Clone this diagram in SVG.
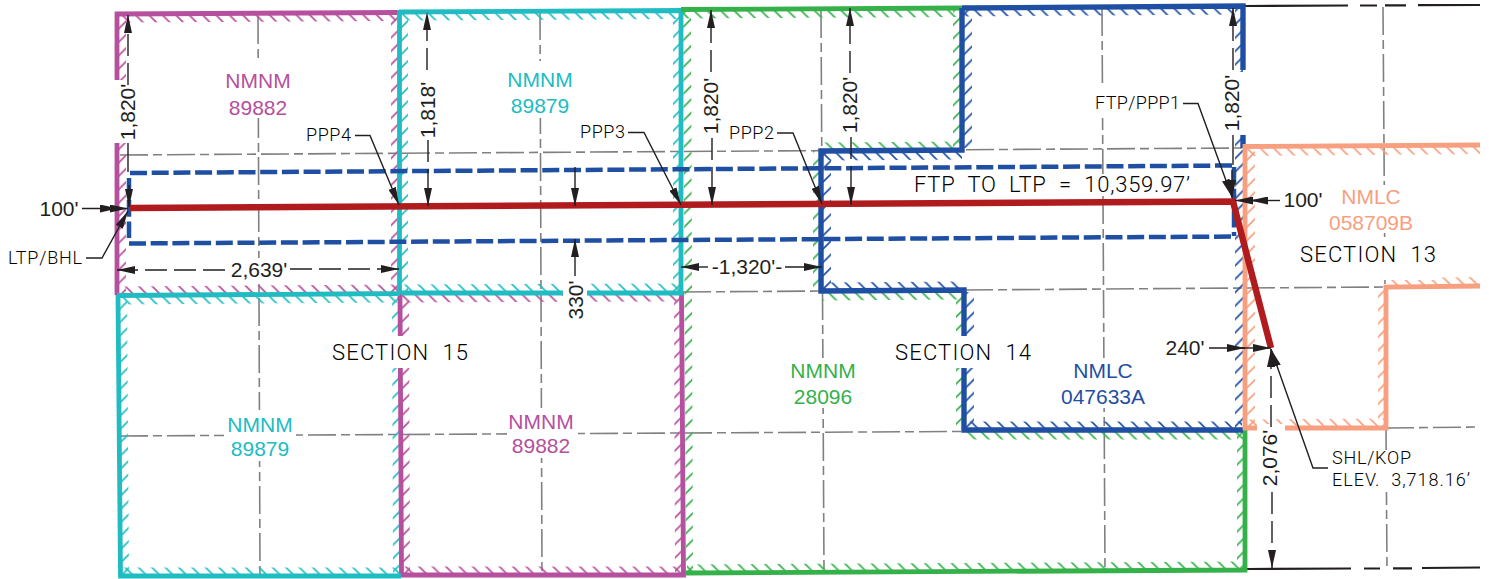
<svg xmlns="http://www.w3.org/2000/svg" width="1489" height="579" viewBox="0 0 1489 579">
<style>
text{font-family:"Liberation Sans",Arial,sans-serif;font-size:21px;fill:#231f20;text-anchor:middle}
.c{font-family:Roboto,"Liberation Sans",sans-serif;font-weight:300;font-size:22px;text-anchor:start;white-space:pre;fill:#000}
.s{font-size:18px}
.g{fill:none;stroke:#808080;stroke-width:1.6;stroke-dasharray:28 5 9 5}
.k{fill:none;stroke:#231f20;stroke-width:2.2}
.b{fill:none;stroke-linejoin:miter;stroke-width:4.8}
.d{fill:none;stroke:#1f4fa3;stroke-width:4.5;stroke-dasharray:17 4.7}
.l{fill:none;stroke:#231f20;stroke-width:1.4}
.m{stroke-dasharray:22 7}
.a{marker-end:url(#ah)}
.P{stroke:#b64f9e}.C{stroke:#20bcc2}.G{stroke:#35b14a}.B{stroke:#1f4fa3}.O{stroke:#f79f7f}
.tP{fill:#b64f9e}.tC{fill:#20bcc2}.tG{fill:#35b14a}.tB{fill:#1f4fa3}.tO{fill:#f79f7f}
.h path{fill:none;stroke-width:1.7}
</style>
<defs>
<marker id="ah" markerUnits="userSpaceOnUse" markerWidth="18" markerHeight="8" refX="18" refY="4" orient="auto"><path d="M0 0L18 4L0 8z" fill="#231f20"/></marker>
<pattern id="bP" class="h" width="13.4" height="13.4" patternUnits="userSpaceOnUse"><path class="P" d="M-2-2L15.4 15.4M-2 11.4L2 15.4M11.4-2L15.4 2"/></pattern>
<pattern id="fP" class="h" width="13.4" height="13.4" patternUnits="userSpaceOnUse"><path class="P" d="M-2 15.4L15.4-2M-2 2L2-2M11.4 15.4L15.4 11.4"/></pattern>
<pattern id="bC" class="h" width="13.4" height="13.4" patternUnits="userSpaceOnUse"><path class="C" d="M-2-2L15.4 15.4M-2 11.4L2 15.4M11.4-2L15.4 2"/></pattern>
<pattern id="fC" class="h" width="13.4" height="13.4" patternUnits="userSpaceOnUse"><path class="C" d="M-2 15.4L15.4-2M-2 2L2-2M11.4 15.4L15.4 11.4"/></pattern>
<pattern id="bG" class="h" width="13.4" height="13.4" patternUnits="userSpaceOnUse"><path class="G" d="M-2-2L15.4 15.4M-2 11.4L2 15.4M11.4-2L15.4 2"/></pattern>
<pattern id="fG" class="h" width="13.4" height="13.4" patternUnits="userSpaceOnUse"><path class="G" d="M-2 15.4L15.4-2M-2 2L2-2M11.4 15.4L15.4 11.4"/></pattern>
<pattern id="bB" class="h" width="13.4" height="13.4" patternUnits="userSpaceOnUse"><path class="B" d="M-2-2L15.4 15.4M-2 11.4L2 15.4M11.4-2L15.4 2"/></pattern>
<pattern id="fB" class="h" width="13.4" height="13.4" patternUnits="userSpaceOnUse"><path class="B" d="M-2 15.4L15.4-2M-2 2L2-2M11.4 15.4L15.4 11.4"/></pattern>
<pattern id="bO" class="h" width="13.4" height="13.4" patternUnits="userSpaceOnUse"><path class="O" d="M-2-2L15.4 15.4M-2 11.4L2 15.4M11.4-2L15.4 2"/></pattern>
<pattern id="fO" class="h" width="13.4" height="13.4" patternUnits="userSpaceOnUse"><path class="O" d="M-2 15.4L15.4-2M-2 2L2-2M11.4 15.4L15.4 11.4"/></pattern>
</defs>
<rect width="1489" height="579" fill="#fff"/>
<g id="grid">
<path class="g" d="M258 16L260 575M540 12L542 575M821 10L824 572M1102 8L1105 570M1383 7L1387 568"/>
<path class="g" d="M120 155L1242 148M683 292L1386 287M120 436L1240 430M1386 428L1480 427"/>
<path class="k" d="M1245 6L1348 5.5M1360 5.5H1377M1385 5.3H1406M1418 5.2L1480 5M1247 569L1351 568.5M1364 568.5H1380M1393 568.3H1412M1422 568L1480 567.5"/>
</g>
<g id="hatching">
<polygon fill="url(#bP)" points="118,14 396,12.5 396,21 118,22.5"/>
<polygon fill="url(#fP)" points="119,16 126,16 126,294 119,294"/>
<polygon fill="url(#fP)" points="391,14 399,14 399,292 391,292"/>
<polygon fill="url(#bP)" points="120,286.500 399,284.500 399,293 120,295"/>
<polygon fill="url(#bC)" points="401,12 680,10.500 680,19 401,20.500"/>
<polygon fill="url(#fC)" points="401,14 408,14 408,292 401,292"/>
<polygon fill="url(#fC)" points="673,12 681,12 681,292 673,292"/>
<polygon fill="url(#bC)" points="402,284.500 680,283.500 680,292 402,293"/>
<polygon fill="url(#bC)" points="120,296 398,294 398,302.500 120,304.500"/>
<polygon fill="url(#fC)" points="120,298 127,298 129,574 122,574"/>
<polygon fill="url(#fC)" points="392,296 400,296 401,574 393,574"/>
<polygon fill="url(#bC)" points="122,567.500 399,567.500 399,576 122,576"/>
<polygon fill="url(#bP)" points="402,294 680,293 680,301.500 402,302.500"/>
<polygon fill="url(#fP)" points="402,295 409,295 410,574 403,574"/>
<polygon fill="url(#fP)" points="674,294 682,294 683,574 675,574"/>
<polygon fill="url(#bP)" points="403,566.500 682,566.500 682,575 403,575"/>
<polygon fill="url(#bG)" points="683,10 960,8.500 960,17 683,18.500"/>
<polygon fill="url(#fG)" points="683,11 691,11 693,573 686,573"/>
<polygon fill="url(#fG)" points="953,9 961,9 961,149 953,149"/>
<polygon fill="url(#bG)" points="822,142.500 960,141.500 960,150 822,151"/>
<polygon fill="url(#fG)" points="813,151 821,151 821,291 813,291"/>
<polygon fill="url(#bG)" points="822,292 964,291 964,299.500 822,300.500"/>
<polygon fill="url(#fG)" points="956,291 964,291 964,430 956,430"/>
<polygon fill="url(#bG)" points="964,431 1244,431 1244,439.500 964,439.500"/>
<polygon fill="url(#fG)" points="1237,432 1245,432 1245,570 1237,570"/>
<polygon fill="url(#bG)" points="687,564.500 1245,561.500 1245,570 687,573"/>
<polygon fill="url(#bB)" points="964,8 1241,6 1241,14.500 964,16.500"/>
<polygon fill="url(#fB)" points="964,9 972,9 972,148 964,148"/>
<polygon fill="url(#fB)" points="1235,8 1243,8 1243,428 1235,428"/>
<polygon fill="url(#bB)" points="824,152 962,151 962,159.500 824,160.500"/>
<polygon fill="url(#fB)" points="823,152 831,152 831,290 823,290"/>
<polygon fill="url(#bB)" points="824,282.500 962,281.500 962,290 824,291"/>
<polygon fill="url(#fB)" points="966,292 974,292 974,430 966,430"/>
<polygon fill="url(#bB)" points="966,421.500 1242,421.500 1242,430 966,430"/>
<polygon fill="url(#bO)" points="1247,147 1480,145 1480,154 1247,156"/>
<polygon fill="url(#fO)" points="1247,150 1255,150 1255,427 1247,427"/>
<polygon fill="url(#bO)" points="1247,419.500 1384,418.500 1384,427 1247,428"/>
<polygon fill="url(#fO)" points="1378,288 1386,288 1386,426 1378,426"/>
<polygon fill="url(#bO)" points="1387,278 1480,277 1480,286 1387,287"/>
</g>
<g id="boundaries">
<path class="b P" d="M117 295V14L398 12.5"/>
<path class="b P" d="M400 293L401.5 575H683.5L681.5 292"/>
<path class="b C" d="M399.5 10V294M399 12L681 10.5V293L401 293M117 295.5L400 293.500M118 295V297L120.5 576H401"/>
<path class="b G" d="M681 9.5L962 8M1245 430V570L685 573"/>
<path class="b B" style="stroke-width:5.4" d="M962 8L1243 6V70M1243 135V148M962 8V150L821 151V291L964 290V430H1243"/>
<path class="b O" d="M1480 145L1245 146.5V428H1386V287L1480 286"/>
</g>
<g id="masks" fill="#fff">
<rect x="112" y="80" width="27" height="63"/>
<rect x="1222" y="72" width="26" height="63"/>
<rect x="1257" y="424" width="28" height="68"/>
<rect x="563" y="276" width="24" height="46"/>
<rect x="416" y="71" width="23" height="69"/>
<rect x="699" y="72" width="24" height="66"/>
<rect x="838" y="73" width="24" height="64"/>
<rect x="222" y="63" width="72" height="55"/>
<rect x="504" y="61" width="72" height="57"/>
<rect x="224" y="410" width="72" height="51"/>
<rect x="507" y="408" width="71" height="50"/>
<rect x="786" y="358" width="74" height="50"/>
<rect x="1058" y="358" width="90" height="50"/>
<rect x="325" y="336" width="150" height="32"/>
<rect x="888" y="336" width="150" height="32"/>
<rect x="1345" y="185" width="80" height="48"/>
<rect x="1295" y="238" width="145" height="42"/>
<rect x="1090" y="84" width="95" height="34"/>
<rect x="908" y="174" width="288" height="21"/>
<rect x="1328" y="450" width="146" height="42"/>
<rect x="228" y="258" width="62" height="23"/>
<rect x="300" y="124" width="54" height="22"/>
<rect x="575" y="122" width="54" height="22"/>
<rect x="726" y="122" width="52" height="22"/>
</g>
<g id="lease-line">
<path class="d" d="M130 173L1233 165.5M129 243.5L1235 236.5M1234 167V236M129 178V238"/>
<path fill="none" stroke="#b01c1e" stroke-width="6.5" d="M130 208L1233 201.5L1271 348"/>
</g>
<g id="connectors">
<path class="l m a" d="M128 85V15"/><path class="l" d="M128 143V172"/><path class="l a" d="M129 185V207"/>
<path class="l a" d="M82 208.500H118"/><path class="l a" d="M100 208.500H128"/>
<path class="l a" d="M86 258H102L128 211"/>
<path class="l m a" d="M225 270H117"/><path class="l m a" d="M290 269H399"/>
<path class="l a" d="M355 135.500H370L399 205"/>
<path class="l m a" d="M427 70V12"/><path class="l m a" d="M428 140V206"/>
<path class="l a" d="M575 167V206"/><path class="l a" d="M575 276V239"/>
<path class="l a" d="M628 132.500H644L681 205"/>
<path class="l m a" d="M711 72V10"/><path class="l m a" d="M712 138V205"/>
<path class="l a" d="M777 133H793L822 204"/>
<path class="l m a" d="M850 73V8"/><path class="l m a" d="M851 137V205"/>
<path class="l a" d="M708 267H681"/><path class="l a" d="M785 267H822"/>
<path class="l m a" d="M1233 70V8"/><path class="l" d="M1233 135V165"/><path class="l a" d="M1232 170V198"/>
<path class="l a" d="M1183 103.500H1198L1232 197"/>
<path class="l a" d="M1280 200.500H1250"/><path class="l a" d="M1260 200.500H1235"/>
<path class="l a" d="M1209 348H1245"/><path class="l a" d="M1240 348H1271"/>
<path class="l m a" d="M1271 427V349"/><path class="l m a" d="M1272 492V568"/>
<path class="l a" d="M1328 468H1313L1271 349"/>
</g>
<g id="labels">
<text class="tP" x="258" y="88">NMNM</text><text class="tP" x="258" y="115">89882</text>
<text class="tC" x="540" y="87">NMNM</text><text class="tC" x="540" y="113">89879</text>
<text class="tC" x="260" y="432">NMNM</text><text class="tC" x="260" y="456">89879</text>
<text class="tP" x="541" y="429">NMNM</text><text class="tP" x="541" y="453">89882</text>
<text class="tG" x="823" y="378">NMNM</text><text class="tG" x="823" y="404">28096</text>
<text class="tB" x="1103" y="378">NMLC</text><text class="tB" x="1103" y="404">047633A</text>
<text class="tO" x="1371" y="204">NMLC</text><text class="tO" x="1371" y="230">058709B</text>
<text class="c" x="332" y="360" textLength="136" lengthAdjust="spacing">SECTION  15</text>
<text class="c" x="895" y="360" textLength="136" lengthAdjust="spacing">SECTION  14</text>
<text class="c" x="1300" y="262" textLength="136" lengthAdjust="spacing">SECTION  13</text>
<text class="c" x="914" y="192" textLength="276" lengthAdjust="spacing">FTP  TO  LTP  =  10,359.97’</text>
<text class="c s" x="306" y="141" textLength="45" lengthAdjust="spacing">PPP4</text>
<text class="c s" x="580" y="138" textLength="45" lengthAdjust="spacing">PPP3</text>
<text class="c s" x="729" y="139" textLength="45" lengthAdjust="spacing">PPP2</text>
<text class="c s" x="1095" y="109" textLength="85" lengthAdjust="spacing">FTP/PPP1</text>
<text class="c s" x="8" y="264" textLength="74" lengthAdjust="spacing">LTP/BHL</text>
<text class="c s" x="1332" y="464" textLength="79" lengthAdjust="spacing">SHL/KOP</text>
<text class="c s" x="1332" y="486" textLength="138" lengthAdjust="spacing">ELEV.  3,718.16’</text>
<text x="59" y="216">100'</text>
<text x="1303" y="207">100'</text>
<text x="1185" y="355">240'</text>
<text x="259" y="277">2,639'</text>
<text x="747" y="274">-1,320'-</text>
<text transform="translate(135 112) rotate(-90)">1,820'</text>
<text transform="translate(435 110) rotate(-90)">1,818'</text>
<text transform="translate(718 106) rotate(-90)">1,820'</text>
<text transform="translate(857 105) rotate(-90)">1,820'</text>
<text transform="translate(1239 103) rotate(-90)">1,820'</text>
<text transform="translate(1277 458) rotate(-90)">2,076'</text>
<text transform="translate(583 300) rotate(-90)">330'</text>
</g>
</svg>
